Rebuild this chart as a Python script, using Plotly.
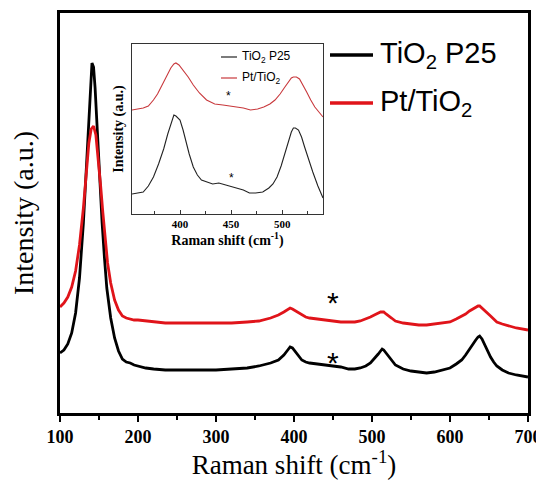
import plotly.graph_objects as go

# ---- main spectra (Raman shift, intensity a.u.) ----
x_p25 = [100,105,110,115,120,125,130,134,137,139,141,143,145,148,151,154,157,160,165,170,175,180,185,190,195,200,210,220,235,250,275,300,320,340,355,370,380,387,392,395,398,402,406,410,415,420,430,440,450,460,470,478,485,492,498,503,508,511,513,515,518,521,525,530,540,550,560,570,580,590,600,608,615,620,625,629,633,636,638,641,644,648,652,656,660,667,675,685,700]
y_p25 = [60,63,69,80,100,135,190,250,300,330,350,346,325,280,230,190,155,125,95,75,62,54,51,50,48,47,45,44,43,43,43,43,44,45,47,50,53,58,63,66,65,61,56,53,51,50,49,48,47,46,44,44,45,47,50,54,59,62,64,63,60,56,52,48,44,42,41,40,41,43,45,49,53,58,64,69,73,76,77,74,69,62,56,51,47,43,40,38,36]

x_pt = [100,105,110,115,120,125,130,134,137,140,143,146,149,152,155,158,161,165,170,175,180,185,190,195,200,210,220,235,250,275,300,320,340,355,370,380,387,392,395,398,402,406,410,415,420,430,440,450,460,470,478,485,492,498,503,508,511,513,515,518,521,525,530,540,550,560,570,580,590,600,608,615,620,625,629,633,636,638,641,644,648,652,656,660,667,675,685,700]
y_pt = [106,110,116,126,142,168,205,245,270,284,287,278,255,228,200,172,150,130,113,103,97,95,94,93,93,92,91,90,90,90,90,90,91,92,95,98,101,104,105,104,102,100,98,96,95,94,93,92,91,91,91,92,94,96,98,100,101,101,101,99,97,95,92,90,89,88,88,89,90,91,94,97,99,102,104,106,107,107,105,103,100,97,94,91,89,87,85,83]

# ---- inset spectra ----
xi_p25 = [353,358,364,369,374,379,384,388,391,394,396,398,400,403,406,409,413,417,421,426,432,438,445,450,456,462,468,474,481,487,491,495,499,503,506,509,511,513,516,519,522,526,530,535,540]
yi_p25 = [20,21,22,28,37,50,65,80,90,99,98,96,94,84,72,60,47,39,34,32,30,31,29,28,26,24,21,21,22,26,30,37,48,62,73,82,86,86,84,77,67,54,42,28,16]
xi_pt = [353,358,364,369,374,378,383,387,391,394,396,399,403,408,413,419,426,434,442,448,455,462,469,476,482,488,493,498,502,506,509,511,514,517,520,524,528,532,536,540]
yi_pt = [104,105,106,108,114,120,130,139,146,150,151,149,144,137,129,121,114,110,109,108,107,106,104,105,107,110,114,120,126,132,136,137,137,135,130,122,114,107,102,97]

names = ["TiO<sub>2</sub> P25", "Pt/TiO<sub>2</sub>"]
colors = ["#000000", "#e0141a"]
inset_colors = ["#222222", "#c8383c"]

main_ticks = [100, 200, 300, 400, 500, 600, 700]
inset_ticks = [400, 450, 500]

# star marker positions (x, intensity)
star_main_x = [450, 450]
star_main_y = [116, 56]
star_in_x = [447, 450]
star_in_y = [121, 39]

# page has an 8px body margin; figure offset by it
W, H = 536, 472
L, R, T, B = 52, 16, 5, 67
PW, PH = W - L - R, H - T - B
OFF = 8

def px(xpix):
    return (xpix - OFF - L) / PW

def py(ypix):
    return (H - B + OFF - ypix) / PH

fig = go.Figure()
fig.add_trace(go.Scatter(x=x_p25, y=y_p25, mode="lines", line=dict(color=colors[0], width=2.8), showlegend=False))
fig.add_trace(go.Scatter(x=x_pt, y=y_pt, mode="lines", line=dict(color=colors[1], width=2.8), showlegend=False))
fig.add_trace(go.Scatter(x=xi_p25, y=yi_p25, mode="lines", xaxis="x2", yaxis="y2", line=dict(color=inset_colors[0], width=1.1), showlegend=False))
fig.add_trace(go.Scatter(x=xi_pt, y=yi_pt, mode="lines", xaxis="x2", yaxis="y2", line=dict(color=inset_colors[1], width=1.1), showlegend=False))

serif = "Liberation Serif"
sans = "Liberation Sans"

fig.update_layout(
    width=W, height=H,
    margin=dict(l=L, r=R, t=T, b=B, autoexpand=False),
    paper_bgcolor="white", plot_bgcolor="white",
    xaxis=dict(range=[100, 700], tickvals=main_ticks, ticktext=[f"<b>{v}</b>" for v in main_ticks],
               ticks="outside", ticklen=6, tickwidth=2, ticklabeloverflow="allow",
               tickcolor="black", minor=dict(dtick=50, tick0=100, ticks="outside", ticklen=4, tickwidth=2, tickcolor="black"),
               showline=True, linewidth=2.5, linecolor="black", mirror=True, showgrid=False, zeroline=False, automargin=False,
               tickfont=dict(family=serif, size=18, color="black"),
               title=dict(text="Raman shift (cm<sup>-1</sup>)", font=dict(family=serif, size=27, color="black"), standoff=16)),
    yaxis=dict(range=[0, 400], showticklabels=False, ticks="", showline=True, linewidth=2.5, linecolor="black", mirror=True,
               showgrid=False, zeroline=False, automargin=False,
               title=dict(text="Intensity (a.u.)", font=dict(family=serif, size=28, color="black"), standoff=21)),
    xaxis2=dict(domain=[px(132), px(323)], anchor="y2", range=[353, 540], tickvals=inset_ticks,
                ticktext=[f"<b>{v}</b>" for v in inset_ticks], ticks="inside",
                ticklen=4, tickwidth=1, tickcolor="#333", minor=dict(dtick=25, tick0=375, ticks="inside", ticklen=3, tickwidth=1, tickcolor="#333"),
                showline=True, linewidth=1, linecolor="#333", mirror=True, showgrid=False, zeroline=False, automargin=False,
                tickfont=dict(family=serif, size=11, color="black"),
                title=dict(text="<b>Raman shift (cm<sup>-1</sup>)</b>", font=dict(family=serif, size=14, color="black"), standoff=2)),
    yaxis2=dict(domain=[py(214), py(44)], anchor="x2", range=[0, 170], showticklabels=False, ticks="",
                showline=True, linewidth=1, linecolor="#333", mirror=True, showgrid=False, zeroline=False, automargin=False,
                title=dict(text="<b>Intensity (a.u.)</b>", font=dict(family=serif, size=14, color="black"), standoff=4)),
)

# stars
for sx, sy in zip(star_main_x, star_main_y):
    fig.add_annotation(x=sx, y=sy, xref="x", yref="y", text="*", showarrow=False,
                       font=dict(family=sans, size=30, color="black"), yanchor="middle", yshift=-5)
for sx, sy in zip(star_in_x, star_in_y):
    fig.add_annotation(x=sx, y=sy, xref="x2", yref="y2", text="*", showarrow=False,
                       font=dict(family=sans, size=12, color="black"), yanchor="middle", yshift=-3)

# main legend
for i, (ny, nm) in enumerate(zip([55, 103], names)):
    fig.add_shape(type="line", xref="paper", yref="paper", x0=px(330), x1=px(373), y0=py(ny), y1=py(ny),
                  line=dict(color=colors[i], width=3.5))
    fig.add_annotation(x=px(378), y=py(ny), xref="paper", yref="paper", text=nm, showarrow=False,
                       xanchor="left", yanchor="middle", font=dict(family=sans, size=29, color="black"))

# inset legend
for i, (ny, nm) in enumerate(zip([57, 78], names)):
    fig.add_shape(type="line", xref="paper", yref="paper", x0=px(221), x1=px(237), y0=py(ny), y1=py(ny),
                  line=dict(color=inset_colors[i], width=1.2))
    fig.add_annotation(x=px(240), y=py(ny), xref="paper", yref="paper", text=nm, showarrow=False,
                       xanchor="left", yanchor="middle", font=dict(family=sans, size=12, color="black"))

fig.write_html("out.html")
